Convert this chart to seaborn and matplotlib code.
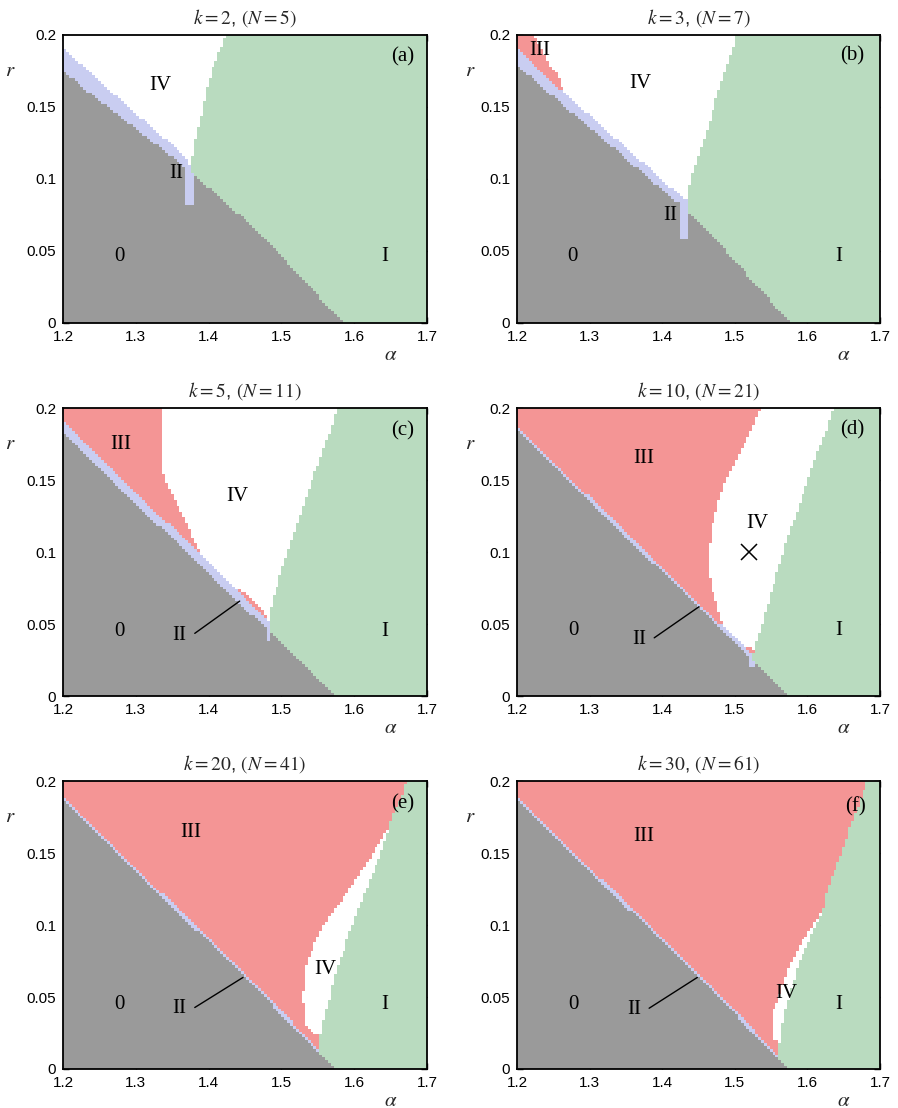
import numpy as np
import matplotlib
matplotlib.use("Agg")
import matplotlib.pyplot as plt
import seaborn as sns
from matplotlib.colors import ListedColormap

# ---------------------------------------------------------------- data
k_values = [2, 3, 5, 10, 20, 30]
N_values = [5, 7, 11, 21, 41, 61]
panel_tags = ["(a)", "(b)", "(c)", "(d)", "(e)", "(f)"]

alpha_ticks = [1.2, 1.3, 1.4, 1.5, 1.6, 1.7]
alpha_ticklabels = ["1.2", "1.3", "1.4", "1.5", "1.6", "1.7"]
r_ticks = [0.0, 0.05, 0.1, 0.15, 0.2]
r_ticklabels = ["0", "0.05", "0.1", "0.15", "0.2"]

phase_names = ["0", "I", "II", "III", "IV"]
phase_colors = ["#9a9a9a", "#b9dbbf", "#c9cdf1", "#f49595", "#ffffff"]

# boundary of region 0 (upper edge, r as function of alpha)
a_gray_alpha = [1.2, 1.231, 1.376, 1.475, 1.585]
a_gray_r = [0.175, 0.162, 0.105, 0.060, 0.0]
b_gray_alpha = [1.2, 1.239, 1.433, 1.477, 1.576]
b_gray_r = [0.179, 0.162, 0.0784, 0.0563, 0.0]
c_gray_alpha = [1.2, 1.5755]
c_gray_r = [0.182, 0.0]
d_gray_alpha = [1.2, 1.576]
d_gray_r = [0.184, 0.0]
e_gray_alpha = [1.2, 1.448, 1.573]
e_gray_r = [0.186, 0.0647, 0.0]
f_gray_alpha = [1.2, 1.449, 1.573]
f_gray_r = [0.186, 0.0647, 0.0]

# upper edge of region II (r as function of alpha)
a_ii_alpha = [1.2, 1.263, 1.342, 1.376]
a_ii_r = [0.191, 0.162, 0.127, 0.110]
b_ii_alpha = [1.2, 1.259, 1.43]
b_ii_r = [0.190, 0.1625, 0.086]
c_ii_alpha = [1.2, 1.5755]
c_ii_r = [0.190, 0.0075]
d_ii_alpha = [1.2, 1.576]
d_ii_r = [0.187, 0.003]
e_ii_alpha = [1.2, 1.448, 1.573]
e_ii_r = [0.1885, 0.0672, 0.0025]
f_ii_alpha = [1.2, 1.449, 1.573]
f_ii_r = [0.1885, 0.0672, 0.0025]

# region II tongue below the 0 boundary: alpha from, alpha to, lowest r
a_tongue = [1.369, 1.379, 0.082]
b_tongue = [1.426, 1.436, 0.0574]
c_tongue = [1.479, 1.485, 0.0376]
d_tongue = [1.521, 1.527, 0.021]
e_tongue = [0.0, 0.0, 1.0]
f_tongue = [0.0, 0.0, 1.0]

# III / IV boundary (alpha as function of r)
a_b3_r = [0.0, 0.2]
a_b3_alpha = [1.0, 1.0]
b_b3_r = [0.0, 0.155, 0.160, 0.169, 0.1786, 0.2]
b_b3_alpha = [1.0, 1.0, 1.264, 1.26, 1.246, 1.223]
c_b3_r = [0.0, 0.05, 0.0597, 0.069, 0.0759, 0.0852, 0.0933, 0.1037, 0.1176,
          0.129, 0.138, 0.145, 0.1536, 0.2]
c_b3_alpha = [1.484, 1.484, 1.475, 1.457, 1.434, 1.4156, 1.397, 1.3835, 1.372,
              1.36, 1.351, 1.3445, 1.338, 1.338]
d_b3_r = [0.0, 0.03, 0.0353, 0.0399, 0.0469, 0.0585, 0.070, 0.0817, 0.0933,
          0.1049, 0.1165, 0.128, 0.1397, 0.1513, 0.1629, 0.1745, 0.186, 0.2]
d_b3_alpha = [1.56, 1.54, 1.5124, 1.4987, 1.485, 1.478, 1.4713, 1.4658, 1.4658,
              1.4658, 1.469, 1.4736, 1.4804, 1.4887, 1.501, 1.5124, 1.5239, 1.5353]
e_b3_r = [0.0, 0.02, 0.0237, 0.026, 0.0306, 0.0376, 0.0492, 0.0608, 0.0724,
          0.084, 0.0956, 0.1072, 0.1188, 0.1304, 0.142, 0.1536, 0.1652, 0.1722,
          0.18, 0.2]
e_b3_alpha = [1.60, 1.565, 1.55, 1.541, 1.5342, 1.5306, 1.5297, 1.5306, 1.5342,
              1.5434, 1.5526, 1.5686, 1.5846, 1.6006, 1.6167, 1.6304, 1.6441,
              1.652, 1.675, 1.72]
f_b3_r = [0.0, 0.017, 0.0202, 0.026, 0.0376, 0.0492, 0.0608, 0.0724, 0.084,
          0.0956, 0.1072, 0.115, 0.2]
f_b3_alpha = [1.60, 1.57, 1.5536, 1.5513, 1.5513, 1.5605, 1.5673, 1.5765, 1.5879,
              1.6016, 1.6177, 1.635, 1.74]

# IV / I boundary (alpha as function of r)
a_b4_r = [0.0, 0.110, 0.127, 0.139, 0.162, 0.178, 0.190, 0.200]
a_b4_alpha = [1.376, 1.376, 1.381, 1.388, 1.397, 1.406, 1.416, 1.424]
b_b4_r = [0.0, 0.078, 0.095, 0.109, 0.132, 0.155, 0.178, 0.19, 0.2]
b_b4_alpha = [1.436, 1.436, 1.438, 1.445, 1.461, 1.474, 1.489, 1.497, 1.502]
c_b4_r = [0.0, 0.048, 0.0631, 0.0817, 0.1049, 0.128, 0.1513, 0.1745, 0.186, 0.2]
c_b4_alpha = [1.4839, 1.4839, 1.4862, 1.4967, 1.5113, 1.5274, 1.5434, 1.5594,
              1.5686, 1.5755]
d_b4_r = [0.0, 0.026, 0.0353, 0.042, 0.0585, 0.0817, 0.1049, 0.128, 0.1513,
          0.1745, 0.186, 0.2]
d_b4_alpha = [1.524, 1.524, 1.5285, 1.533, 1.5422, 1.5559, 1.5696, 1.5856,
              1.6016, 1.6177, 1.6268, 1.635]
e_b4_r = [0.0, 0.0144, 0.026, 0.0376, 0.0492, 0.0608, 0.0724, 0.084, 0.0956,
          0.1072, 0.1188, 0.1304, 0.142, 0.1536, 0.1652, 0.1768, 0.1884, 0.2]
e_b4_alpha = [1.5503, 1.5503, 1.5549, 1.5594, 1.5663, 1.5709, 1.5777, 1.5869,
              1.5938, 1.603, 1.6121, 1.6212, 1.6304, 1.6396, 1.6464, 1.6533,
              1.6648, 1.6707]
f_b4_r = [0.0, 0.0144, 0.026, 0.0376, 0.0492, 0.0608, 0.0724, 0.084, 0.0956,
          0.1072, 0.1188, 0.1304, 0.142, 0.1536, 0.1652, 0.1768, 0.1884, 0.2]
f_b4_alpha = [1.5605, 1.5605, 1.565, 1.5673, 1.5742, 1.581, 1.5879, 1.5971,
              1.6085, 1.62, 1.6245, 1.6314, 1.6405, 1.6497, 1.6565, 1.6657,
              1.6748, 1.6817]

# marked parameter point in panel (d)
marker_alpha, marker_r = 1.52, 0.1

panels = [
    dict(gray=(a_gray_alpha, a_gray_r), ii=(a_ii_alpha, a_ii_r), tongue=a_tongue,
         b3=(a_b3_r, a_b3_alpha), b4=(a_b4_r, a_b4_alpha)),
    dict(gray=(b_gray_alpha, b_gray_r), ii=(b_ii_alpha, b_ii_r), tongue=b_tongue,
         b3=(b_b3_r, b_b3_alpha), b4=(b_b4_r, b_b4_alpha)),
    dict(gray=(c_gray_alpha, c_gray_r), ii=(c_ii_alpha, c_ii_r), tongue=c_tongue,
         b3=(c_b3_r, c_b3_alpha), b4=(c_b4_r, c_b4_alpha)),
    dict(gray=(d_gray_alpha, d_gray_r), ii=(d_ii_alpha, d_ii_r), tongue=d_tongue,
         b3=(d_b3_r, d_b3_alpha), b4=(d_b4_r, d_b4_alpha)),
    dict(gray=(e_gray_alpha, e_gray_r), ii=(e_ii_alpha, e_ii_r), tongue=e_tongue,
         b3=(e_b3_r, e_b3_alpha), b4=(e_b4_r, e_b4_alpha)),
    dict(gray=(f_gray_alpha, f_gray_r), ii=(f_ii_alpha, f_ii_r), tongue=f_tongue,
         b3=(f_b3_r, f_b3_alpha), b4=(f_b4_r, f_b4_alpha)),
]

# ---------------------------------------------------------------- grid
ALPHA_MIN, ALPHA_MAX, N_ALPHA = 1.2, 1.7, 125
R_MIN, R_MAX, N_R = 0.0, 0.2, 100


def phase_map(p):
    ac = ALPHA_MIN + (np.arange(N_ALPHA) + 0.5) * (ALPHA_MAX - ALPHA_MIN) / N_ALPHA
    rc = R_MIN + (np.arange(N_R) + 0.5) * (R_MAX - R_MIN) / N_R
    A, R = np.meshgrid(ac, rc)
    gray = np.interp(A, *p["gray"])
    iitop = np.interp(A, *p["ii"])
    b3 = np.interp(R, *p["b3"])
    b4 = np.interp(R, *p["b4"])
    Z = np.full(A.shape, 4)
    Z[A < b3] = 3
    Z[R < iitop] = 2
    Z[A >= b4] = 1
    Z[R < gray] = 0
    t0, t1, tb = p["tongue"]
    Z[(A >= t0) & (A <= t1) & (R >= tb) & (R < gray)] = 2
    return Z


def X(a):
    return (a - ALPHA_MIN) / (ALPHA_MAX - ALPHA_MIN) * N_ALPHA


def Y(r):
    return (r - R_MIN) / (R_MAX - R_MIN) * N_R


# ---------------------------------------------------------------- style
sns.set_theme(style="white")
plt.rcParams["font.family"] = ["Liberation Sans", "DejaVu Sans"]
plt.rcParams["mathtext.fontset"] = "stix"

fig = plt.figure(figsize=(8.98, 11.08), dpi=100)

W, H = 898.0, 1108.0
col_left = [63, 517]
col_width = [364, 363]
row_bottom = [323, 696, 1069]
ax_height = 288

serif = ["Liberation Serif", "DejaVu Serif"]
lab_size = 15

# region label positions (alpha, r) per panel
labels = [
    [("IV", 1.333, 0.165), ("II", 1.356, 0.104), ("0", 1.278, 0.046), ("I", 1.642, 0.046)],
    [("III", 1.232, 0.189), ("IV", 1.370, 0.166), ("II", 1.411, 0.075), ("0", 1.277, 0.046),
     ("I", 1.643, 0.046)],
    [("III", 1.280, 0.1745), ("IV", 1.439, 0.1385), ("0", 1.278, 0.045), ("II", 1.360, 0.0418),
     ("I", 1.642, 0.045)],
    [("III", 1.375, 0.1647), ("IV", 1.531, 0.1195), ("0", 1.278, 0.0452), ("II", 1.368, 0.0392),
     ("I", 1.643, 0.0452)],
    [("III", 1.375, 0.164), ("IV", 1.561, 0.0689), ("0", 1.278, 0.0445), ("II", 1.360, 0.0418),
     ("I", 1.642, 0.0445)],
    [("III", 1.375, 0.1617), ("IV", 1.571, 0.0527), ("0", 1.278, 0.0445), ("II", 1.361, 0.0411),
     ("I", 1.643, 0.0445)],
]
tag_pos = [(1.666, 0.185), (1.662, 0.1856), (1.667, 0.1842), (1.662, 0.185),
           (1.667, 0.1842), (1.666, 0.1819)]
pointer = [None, None,
           ((1.381, 0.0435), (1.4427, 0.0659)),
           ((1.389, 0.0404), (1.4507, 0.062)),
           ((1.381, 0.0427), (1.4473, 0.0636)),
           ((1.382, 0.0422), (1.4484, 0.0636))]

cmap = ListedColormap(phase_colors)

for i, p in enumerate(panels):
    row, col = divmod(i, 2)
    rect = [col_left[col] / W, 1 - row_bottom[row] / H, col_width[col] / W, ax_height / H]
    ax = fig.add_axes(rect)
    Z = phase_map(p)
    sns.heatmap(Z, cmap=cmap, vmin=-0.5, vmax=4.5, cbar=False, ax=ax,
                xticklabels=False, yticklabels=False, rasterized=True)
    ax.set_xlim(0, N_ALPHA)
    ax.set_ylim(0, N_R)

    ax.set_xticks([X(a) for a in alpha_ticks])
    ax.set_xticklabels(alpha_ticklabels, rotation=0)
    ax.set_yticks([Y(r) for r in r_ticks])
    ax.set_yticklabels(r_ticklabels, rotation=0)
    ax.tick_params(direction="in", length=4, width=1.0, color="black",
                   top=True, right=True, bottom=True, left=True,
                   labelsize=11, labelcolor="black", pad=5)
    for sp in ax.spines.values():
        sp.set_visible(True)
        sp.set_color("black")
        sp.set_linewidth(1.3)

    ax.set_title(f"$k={k_values[i]}$, $(N={N_values[i]})$", fontsize=14, pad=8)
    ax.text(0.9, -0.11, r"$\alpha$", transform=ax.transAxes, fontsize=15,
            ha="center", va="center")
    ax.text(-0.145 if col == 0 else -0.129, 0.878, r"$r$", transform=ax.transAxes,
            fontsize=15, ha="center", va="center")

    for txt, a, r in labels[i]:
        ax.text(X(a), Y(r), txt, fontsize=lab_size, family=serif, ha="center",
                va="center", color="black")
    ax.text(X(tag_pos[i][0]), Y(tag_pos[i][1]), panel_tags[i], fontsize=lab_size,
            family=serif, ha="center", va="center", color="black")
    if pointer[i] is not None:
        (a0, r0), (a1, r1) = pointer[i]
        ax.plot([X(a0), X(a1)], [Y(r0), Y(r1)], color="black", lw=1.0)
    if i == 3:
        ax.plot([X(marker_alpha)], [Y(marker_r)], marker="x", ms=12, mew=1.1,
                color="black", linestyle="none")

fig.savefig("out.png", dpi=100)
